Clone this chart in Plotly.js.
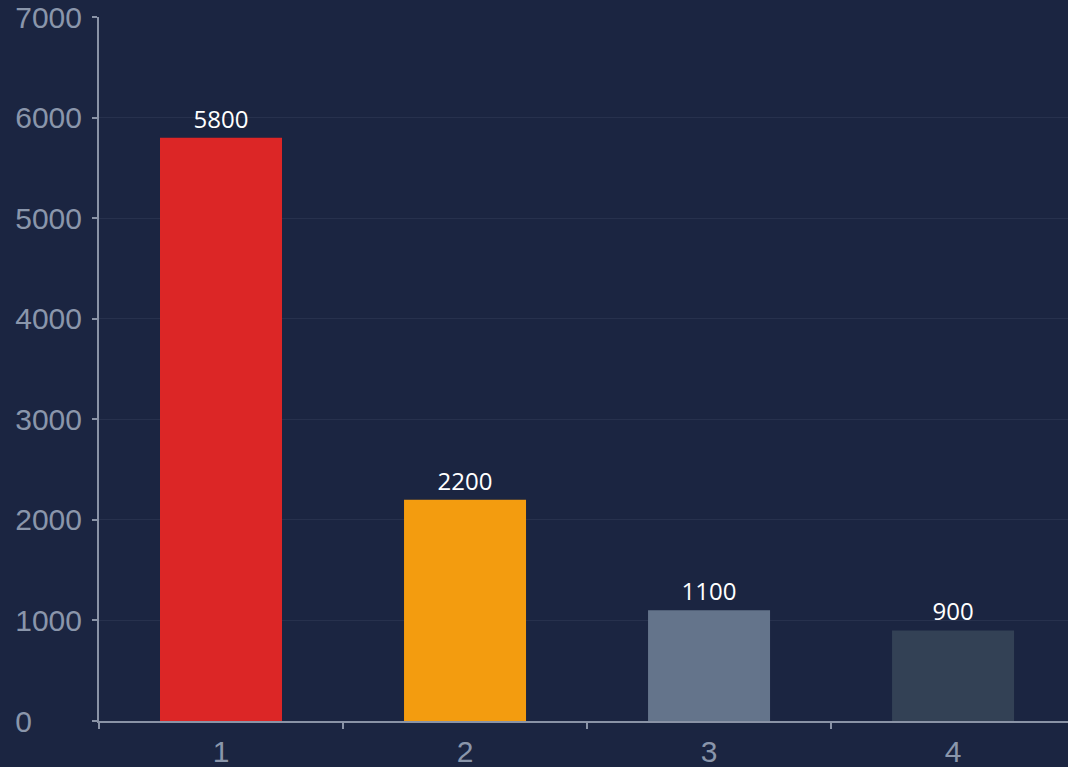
<!DOCTYPE html>
<html>
<head>
<meta charset="utf-8">
<script src="https://cdn.plot.ly/plotly-3.0.1.min.js"></script>
<style>
html,body{margin:0;padding:0;background:#1b2541;}
#chart{width:1068px;height:767px;}
</style>
</head>
<body>
<div id="chart"></div>
<script>
const categories = ["1", "2", "3", "4"];
const values = [5800, 2200, 1100, 900];
const barColors = ["#dc2626", "#f39c0f", "#64748b", "#334155"];
const yTickVals = [0, 1000, 2000, 3000, 4000, 5000, 6000, 7000];
const yTickText = ["0\u2007\u2007\u2007", "1000", "2000", "3000", "4000", "5000", "6000", "7000"];

const trace = {
  type: "bar",
  x: categories,
  y: values,
  width: 0.5,
  marker: {color: barColors, line: {width: 0}},
  text: values.map(String),
  textposition: "outside",
  cliponaxis: false,
  textfont: {family: "Open Sans, sans-serif", size: 24, color: "#ffffff"},
  hoverinfo: "none"
};

const layout = {
  width: 1068,
  height: 767,
  margin: {l: 99, r: 0, t: 17, b: 46},
  paper_bgcolor: "#1b2541",
  plot_bgcolor: "#1b2541",
  showlegend: false,
  bargap: 0.5,
  xaxis: {
    type: "category",
    range: [-0.5, 3.471],
    tickson: "boundaries",
    ticks: "outside",
    ticklen: 6,
    tickwidth: 2,
    tickcolor: "#8a93a6",
    showline: true,
    linecolor: "#8a93a6",
    linewidth: 2,
    showgrid: false,
    zeroline: false,
    ticklabelstandoff: 3,
    tickfont: {family: "Liberation Sans, Arial, sans-serif", size: 30, color: "#8a96ab"}
  },
  yaxis: {
    range: [0, 7000],
    tickvals: yTickVals,
    ticktext: yTickText,
    ticks: "outside",
    ticklen: 5,
    tickwidth: 2,
    tickcolor: "#8a93a6",
    showline: true,
    linecolor: "#8a93a6",
    linewidth: 2,
    showgrid: true,
    gridcolor: "#27314d",
    gridwidth: 1,
    zeroline: false,
    ticklabelstandoff: 4,
    tickfont: {family: "Liberation Sans, Arial, sans-serif", size: 30, color: "#8a96ab"}
  }
};

Plotly.newPlot("chart", [trace], layout, {displayModeBar: false, staticPlot: true});
</script>
</body>
</html>
